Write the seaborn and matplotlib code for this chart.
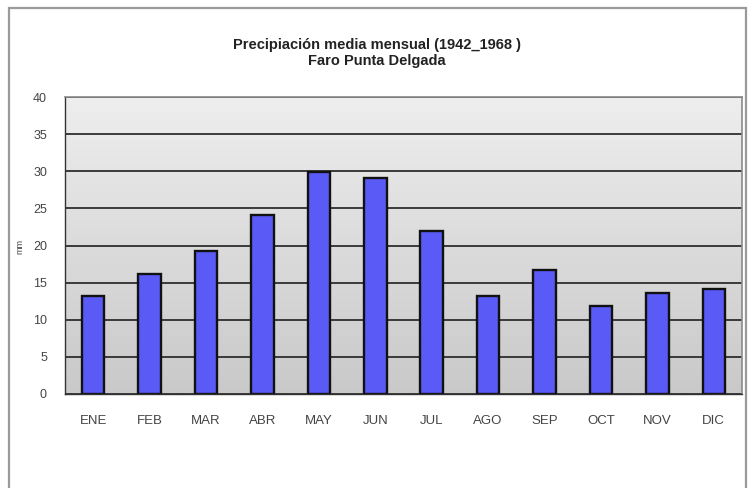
import numpy as np
import pandas as pd
import matplotlib
matplotlib.use("Agg")
import matplotlib.pyplot as plt
import matplotlib.patches as mpatches
from matplotlib.colors import LinearSegmentedColormap
import seaborn as sns

# datos
meses = ['ENE', 'FEB', 'MAR', 'ABR', 'MAY', 'JUN', 'JUL', 'AGO', 'SEP', 'OCT', 'NOV', 'DIC']
precip = [13.2, 16.2, 19.3, 24.1, 29.9, 29.1, 21.9, 13.2, 16.7, 11.9, 13.6, 14.1]
yticks = [0, 5, 10, 15, 20, 25, 30, 35, 40]

sns.set_style("white")
plt.rcParams['font.family'] = ['Liberation Sans', 'DejaVu Sans']

df = pd.DataFrame({'mes': meses, 'mm': precip})

fig = plt.figure(figsize=(7.54, 4.88), dpi=100)
W, H = 754, 488

# marco exterior del gráfico (estilo Excel)
fig.patches.append(mpatches.Rectangle((9 / W, -0.05), (746 - 9) / W, (H - 8) / H + 0.05,
                                      transform=fig.transFigure, fill=False,
                                      edgecolor='#9a9a9a', linewidth=1.6))

ax = fig.add_axes([65 / W, (H - 394) / H, (742 - 65) / W, (394 - 97) / H])

# fondo degradado gris del área de trazado (claro arriba, más oscuro abajo)
cmap = LinearSegmentedColormap.from_list('fondo', ['#eeeeee', '#c9c9c9'])
grad = np.linspace(0, 1, 256).reshape(-1, 1)
ax.imshow(grad, cmap=cmap, aspect='auto', extent=(-0.5, 11.5, 0, 40), origin='upper', zorder=0)

sns.barplot(data=df, x='mes', y='mm', color='#5a5af6', saturation=1,
            edgecolor='#111111', linewidth=1.7, width=0.4, ax=ax, zorder=2)

ax.set_xlim(-0.5, 11.5)
ax.set_ylim(0, 40)
ax.set_yticks(yticks)
ax.set_yticklabels([str(t) for t in yticks], fontsize=9, color='#444444')
ax.yaxis.grid(True, color='#2e2e2e', linewidth=1.3, zorder=1)
ax.xaxis.grid(False)

ax.set_xticks(range(len(meses)))
ax.set_xticklabels(meses, fontsize=9.5, color='#444444')
ax.tick_params(axis='x', which='major', length=0, pad=15)
ax.set_xticks(np.arange(-0.5, 12, 1), minor=True)
ax.tick_params(axis='x', which='minor', length=3, width=0.9, direction='out', color='#444444')
ax.tick_params(axis='y', length=3, width=0.9, direction='out', color='#444444', pad=10)

ax.set_xlabel('')
ax.set_ylabel('')
fig.text(20 / W, (H - 247) / H, 'mm', rotation=90, fontsize=6.5, color='#444444',
         ha='center', va='center')

for lado in ['top', 'right']:
    ax.spines[lado].set_color('#8a8a8a')
    ax.spines[lado].set_linewidth(1.2)
for lado in ['left', 'bottom']:
    ax.spines[lado].set_color('#333333')
    ax.spines[lado].set_linewidth(1.0)

fig.text(0.5, (H - 45) / H, 'Precipiación media mensual (1942_1968 )', ha='center', va='center',
         fontsize=10.5, fontweight='bold', color='#222222')
fig.text(0.5, (H - 61) / H, 'Faro Punta Delgada', ha='center', va='center',
         fontsize=10.5, fontweight='bold', color='#222222')

fig.savefig('out.png', dpi=100)
